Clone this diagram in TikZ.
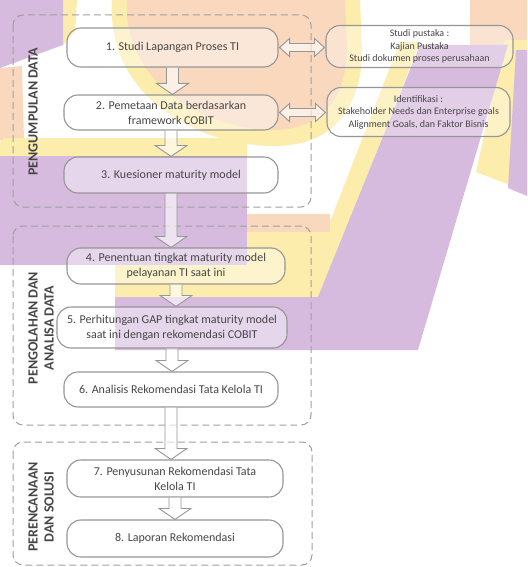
\documentclass[tikz,border=0pt]{standalone}
\usepackage{fontspec}
\setmainfont{Carlito}
\usetikzlibrary{calc}
\definecolor{bgpurple}{RGB}{214,187,222}
\definecolor{bgyellow}{RGB}{252,237,172}
\definecolor{bgpeach}{RGB}{249,216,190}
\definecolor{boxgray}{RGB}{150,150,150}
\definecolor{dashgray}{RGB}{160,160,160}
\definecolor{textgray}{RGB}{70,70,70}
\newcommand{\hdown}[2]{\draw[harrow] let \p1=(#1.south), \p2=(#2.north) in
  (\x1-6pt,\y1) -- (\x1-6pt,\y2+11pt) -- (\x1-16pt,\y2+11pt) -- (\x1,\y2) --
  (\x1+16pt,\y2+11pt) -- (\x1+6pt,\y2+11pt) -- (\x1+6pt,\y1);}
\newcommand{\hdouble}[2]{\draw[harrow] let \p1=(#1.east), \p2=(#2.west) in
  (\x1+1pt,\y1) -- (\x1+11pt,\y1+9pt) -- (\x1+11pt,\y1+4pt) -- (\x2-11pt,\y1+4pt) --
  (\x2-11pt,\y1+9pt) -- (\x2-1pt,\y1) -- (\x2-11pt,\y1-9pt) -- (\x2-11pt,\y1-4pt) --
  (\x1+11pt,\y1-4pt) -- (\x1+11pt,\y1-9pt) -- cycle;}
\begin{document}
\begin{tikzpicture}[x=1pt,y=-1pt,
  stepbox/.style={draw=boxgray, line width=1.1pt, rounded corners=14pt,
    fill=white, fill opacity=0.4, text opacity=1, text=textgray,
    font=\fontsize{12}{15}\selectfont, align=center, inner sep=0pt},
  sidebox/.style={stepbox, font=\fontsize{10}{12.5}\selectfont, fill opacity=0.3},
  groupbox/.style={draw=dashgray, line width=1pt, dash pattern=on 7pt off 4pt, rounded corners=10pt},
  grouplabel/.style={rotate=90, font=\fontsize{14}{16}\selectfont\bfseries, text=textgray, align=center, inner sep=0pt},
  harrow/.style={draw=boxgray, line width=0.9pt, fill=white, fill opacity=0.6, line join=miter}]
\useasboundingbox (0,0) rectangle (527,567);
\fill[white] (0,0) rectangle (527,567);
% ---- background decoration ----
\fill[bgpeach] (470,0) rectangle (527,58);
\fill[bgyellow] (112,0) .. controls (106,95) and (195,145) .. (272,146)
  .. controls (335,147) and (362,105) .. (362,50) -- (360,0) -- cycle;
\fill[bgpeach] (127,0) .. controls (122,80) and (200,128) .. (270,130)
  .. controls (322,131) and (346,98) .. (347,50) -- (345,0) -- cycle;
\fill[bgpeach] (0,68) -- (22,66) -- (24,140) -- (0,140) -- cycle;
\fill[bgyellow] (63,0) -- (77,0) -- (75,32) -- (63,45) -- cycle;
\fill[bgpurple] (0,0) -- (63,0) -- (63,45) -- (0,68) -- cycle;
\fill[bgyellow, rounded corners=6pt] (0,138) rectangle (247,162);
\fill[bgyellow] (115,232) -- (326,232) -- (400,42) -- (420,42) -- (318,300) -- (115,300) -- cycle;
\fill[bgyellow] (505,40) -- (527,40) -- (527,60) -- (512,186) -- (476,172) -- cycle;
\fill[bgpurple] (0,156) rectangle (247,265);
\fill[bgpeach] (247,214) rectangle (330,232);
\fill[bgpurple] (115,297) -- (318,297) -- (420,45) -- (508,45) -- (418,350) -- (115,350) -- cycle;
\fill[bgpurple] (516,50) -- (527,50) -- (527,196) -- (508,188) -- cycle;
% ---- groups ----
\draw[groupbox] (13,15) rectangle (311,207);
\draw[groupbox] (13,226) rectangle (311,425);
\draw[groupbox] (13,442) rectangle (312,565);
\node[grouplabel] (l1) at (33,112) {PENGUMPULAN DATA};
\node[grouplabel] (l2) at (41,328) {PENGOLAHAN DAN\\ANALISA DATA};
\node[grouplabel] (l3) at (41,507) {PERENCANAAN\\DAN SOLUSI};
% ---- steps ----
\node[stepbox, minimum width=211pt, minimum height=39pt] (b1) at (172.5,47.5) {1. Studi Lapangan Proses TI};
\node[stepbox, minimum width=214pt, minimum height=35pt] (b2) at (171,112.5) {2. Pemetaan Data berdasarkan\\framework COBIT};
\node[stepbox, minimum width=214pt, minimum height=36pt] (b3) at (171,175) {3. Kuesioner maturity model};
\node[stepbox, minimum width=218pt, minimum height=36pt] (b4) at (176,266) {4. Penentuan tingkat maturity model\\pelayanan TI saat ini};
\node[stepbox, minimum width=230pt, minimum height=41pt] (b5) at (172,327.5) {5. Perhitungan GAP tingkat maturity model\\saat ini dengan rekomendasi COBIT};
\node[stepbox, minimum width=214pt, minimum height=35pt] (b6) at (171,389.5) {6. Analisis Rekomendasi Tata Kelola TI};
\node[stepbox, minimum width=216pt, minimum height=37pt] (b7) at (175,478.5) {7. Penyusunan Rekomendasi Tata\\Kelola TI};
\node[stepbox, minimum width=216pt, minimum height=37pt] (b8) at (175,538.5) {8. Laporan Rekomendasi};
\node[sidebox, minimum width=187pt, minimum height=42pt] (sA) at (419.5,46.5) {Studi pustaka :\\Kajian Pustaka\\Studi dokumen proses perusahaan};
\node[sidebox, minimum width=183pt, minimum height=49pt] (sB) at (418.5,112) {Identifikasi :\\Stakeholder Needs dan Enterprise goals\\Alignment Goals, dan Faktor Bisnis};
% ---- connectors ----
\hdown{b1}{b2}
\hdown{b2}{b3}
\hdown{b3}{b4}
\hdown{b4}{b5}
\hdown{b5}{b6}
\hdown{b6}{b7}
\hdown{b7}{b8}
\hdouble{b1}{sA}
\hdouble{b2}{sB}
\end{tikzpicture}
\end{document}
